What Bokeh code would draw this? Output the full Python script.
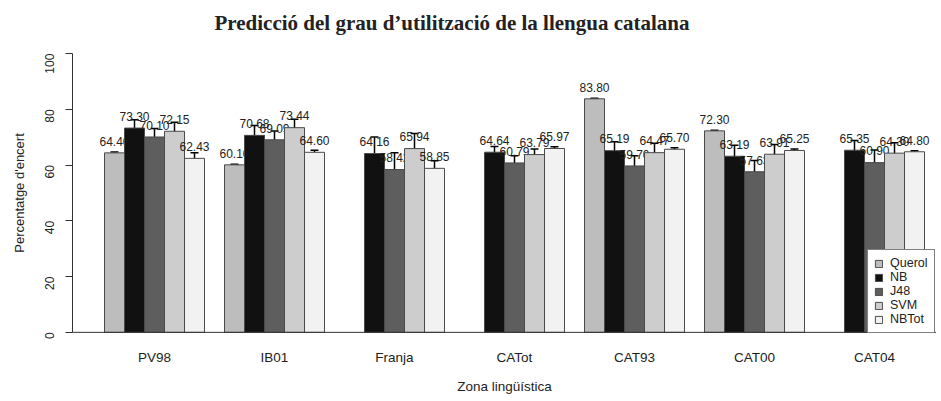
from bokeh.plotting import figure
from bokeh.models import (Range1d, FixedTicker, Whisker, TeeHead, ColumnDataSource,
                          Legend, LegendItem, Span)
from bokeh.embed import file_html
from bokeh.resources import INLINE
from bokeh.core.properties import value

zones = ["PV98", "IB01", "Franja", "CATot", "CAT93", "CAT00", "CAT04"]
series = ["Querol", "NB", "J48", "SVM", "NBTot"]
querol = [64.40, 60.10, None, None, 83.80, 72.30, None]
nb = [73.30, 70.68, 64.16, 64.64, 65.19, 63.19, 65.35]
j48 = [70.10, 69.09, 58.42, 60.79, 59.70, 57.63, 60.90]
svm = [72.15, 73.44, 65.94, 63.79, 64.47, 63.91, 64.30]
nbtot = [62.43, 64.60, 58.85, 65.97, 65.70, 65.25, 64.80]
querol_err = [0.3, 0.2, None, None, 0.2, 0.2, None]
nb_err = [3.0, 3.5, 5.9, 2.0, 3.2, 3.9, 3.5]
j48_err = [3.0, 3.2, 6.0, 2.6, 3.7, 4.0, 4.5]
svm_err = [3.2, 3.0, 5.4, 2.0, 3.4, 3.5, 3.7]
nbtot_err = [2.0, 0.7, 2.7, 0.6, 0.5, 0.5, 0.4]
yticks = [0, 20, 40, 60, 80, 100]
colors = ["#bdbdbd", "#111111", "#5e5e5e", "#cdcdcd", "#f2f2f2"]

values = [querol, nb, j48, svm, nbtot]
errors = [querol_err, nb_err, j48_err, svm_err, nbtot_err]

FONT = "Liberation Sans"
TXT = "#222222"
p = figure(width=936, height=400, output_backend="svg", toolbar_location=None,
           x_range=Range1d(-0.6, 42.6), y_range=Range1d(-4, 104),
           min_border_left=72, min_border_right=0, min_border_top=42, min_border_bottom=57)
p.outline_line_color = None
p.xgrid.grid_line_color = None
p.ygrid.grid_line_color = None

p.title.text = "Predicció del grau d\u2019utilització de la llengua catalana"
p.title.text_font = "Liberation Serif"
p.title.text_font_size = "21px"
p.title.text_font_style = "bold"
p.title.text_color = TXT
p.title.align = "left"
p.title.offset = 142
p.title.standoff = 16

ngroups = len(zones)
nser = len(series)
centers = [1 + g * (nser + 1) + nser / 2 for g in range(ngroups)]

items = []
for j, name in enumerate(series):
    xs, tops, los, his, labs, ly = [], [], [], [], [], []
    for g in range(ngroups):
        v = values[j][g]
        if v is None:
            continue
        e = errors[j][g]
        xs.append(1 + g * (nser + 1) + j + 0.5)
        tops.append(v)
        los.append(v - e)
        his.append(v + e)
        labs.append(f"{v:.2f}")
        ly.append(v + 4.2)
    src = ColumnDataSource(dict(x=xs, top=tops, lower=los, upper=his, lab=labs, ly=ly))
    r = p.vbar(x="x", top="top", bottom=0, width=1.0, source=src,
               fill_color=colors[j], line_color="#4a4a4a", line_width=1)
    items.append(LegendItem(label=name, renderers=[r]))
    w = Whisker(base="x", upper="upper", lower="lower", source=src,
                line_color="black", line_width=1.5,
                upper_head=TeeHead(size=8, line_width=1.5, line_color="black"),
                lower_head=TeeHead(size=8, line_width=1.5, line_color="black"))
    p.add_layout(w)
    p.text(x="x", y="ly", text="lab", source=src, text_font=value(FONT),
           text_font_size="12px", text_align="center", text_baseline="middle",
           text_color=TXT)

p.add_layout(Span(location=0, dimension="width", line_color="#333333", line_width=1))

# y axis
p.yaxis.ticker = FixedTicker(ticks=yticks)
p.yaxis.bounds = (0, 100)
p.yaxis.minor_tick_line_color = None
p.yaxis.major_tick_out = 7
p.yaxis.major_tick_in = 0
p.yaxis.major_label_orientation = 3.14159265 / 2
p.yaxis.major_label_standoff = 16
p.yaxis.major_label_text_font = FONT
p.yaxis.major_label_text_font_size = "12px"
p.yaxis.major_label_text_color = TXT
p.yaxis.axis_label = "Percentatge d'encert"
p.yaxis.axis_label_text_font = FONT
p.yaxis.axis_label_text_font_size = "13px"
p.yaxis.axis_label_text_font_style = "normal"
p.yaxis.axis_label_text_color = TXT
p.yaxis.axis_label_standoff = 11
p.yaxis.axis_line_color = "#333333"
p.yaxis.major_tick_line_color = "#333333"

# x axis
p.xaxis.ticker = FixedTicker(ticks=centers)
p.xaxis.major_label_overrides = {c: z for c, z in zip(centers, zones)}
p.xaxis.axis_line_color = None
p.xaxis.major_tick_line_color = None
p.xaxis.minor_tick_line_color = None
p.xaxis.major_tick_out = 0
p.xaxis.major_label_standoff = 6
p.xaxis.major_label_text_font = FONT
p.xaxis.major_label_text_font_size = "13.5px"
p.xaxis.major_label_text_color = TXT
p.xaxis.axis_label = "Zona lingüística"
p.xaxis.axis_label_text_font = FONT
p.xaxis.axis_label_text_font_size = "13.5px"
p.xaxis.axis_label_text_font_style = "normal"
p.xaxis.axis_label_text_color = TXT
p.xaxis.axis_label_standoff = 11

legend = Legend(items=items, location=(795, 10))
legend.border_line_color = "black"
legend.border_line_width = 1
legend.background_fill_color = "white"
legend.background_fill_alpha = 1
legend.label_text_font = FONT
legend.label_text_font_size = "12.5px"
legend.label_text_color = TXT
legend.label_height = 12
legend.glyph_height = 9
legend.glyph_width = 9
legend.spacing = 0
legend.padding = 6
legend.margin = 0
legend.label_standoff = 7
p.add_layout(legend, "center")

open("out.html", "w").write(file_html(p, INLINE))
